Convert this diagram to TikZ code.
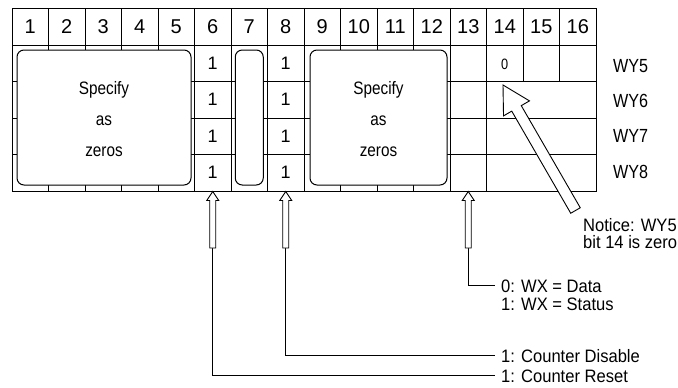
\documentclass[tikz,border=0pt]{standalone}
\usepackage{fontspec}
\setmainfont{Liberation Sans}
\newfontfamily\narrowA[FakeStretch=0.85]{Liberation Sans}
\newfontfamily\narrowB[FakeStretch=0.92]{Liberation Sans}
\usetikzlibrary{calc}
\newcommand\hollowarrow[5]{%
  \coordinate (hb) at ($(#1)!#3!(#2)$);
  \draw[hollow] (#1) -- ($(hb)!#4!90:(#2)$) -- ($(hb)!#5!90:(#2)$)
    -- ($(#2)!#5!-90:(hb)$) -- ($(#2)!#5!90:(hb)$)
    -- ($(hb)!#5!-90:(#2)$) -- ($(hb)!#4!-90:(#2)$) -- cycle;}
\tikzset{
  gridline/.style={line width=1pt},
  zerobox/.style={draw, fill=white, line width=1pt, rounded corners=7pt, inner sep=0pt},
  hdr/.style={font=\fontsize{20}{22}\selectfont, inner sep=0pt},
  bitval/.style={font=\fontsize{18}{20}\selectfont, inner sep=0pt},
  boxtext/.style={font=\narrowA\fontsize{18}{31}\selectfont, align=center, inner sep=0pt},
  lbl/.style={font=\narrowB\fontsize{18}{18}\selectfont, inner sep=0pt, anchor=base west},
  wylbl/.style={font=\narrowA\fontsize{19}{20}\selectfont, inner sep=0pt, anchor=west},
  hollow/.style={draw, fill=white, line width=0.9pt, line join=miter},
  leader/.style={line width=1pt},
}
\begin{document}
\begin{tikzpicture}[x=1pt,y=-1pt]
\useasboundingbox (0,0) rectangle (678,388);
\clip (0,0) rectangle (678,388);
% grid
\draw[gridline] (12,8) rectangle (596,191);
\foreach \y in {45,81.5,118,154.5} \draw[gridline] (12,\y) -- (596,\y);
\foreach \k in {1,...,13} \draw[gridline] ({12+36.5*\k},8) -- ({12+36.5*\k},191);
\foreach \k in {14,15} \draw[gridline] ({12+36.5*\k},8) -- ({12+36.5*\k},81.5);
% header numbers
\foreach \k in {1,...,16} \node[hdr] (h\k) at ({12+36.5*(\k-0.5)},27) {\k};
% bit values
\foreach \r/\y in {5/63.25,6/99.75,7/136.25,8/172.75} {
  \node[bitval] (six\r) at (212.75,\y) {1};
  \node[bitval] (eight\r) at (285.75,\y) {1};
}
\node[font=\narrowA\fontsize{15}{17}\selectfont, inner sep=0pt] (b14) at (504.75,64) {0};
% rounded boxes
\node[zerobox, minimum width=174pt, minimum height=135pt] (zeroA) at (104,117.5) {};
\node[boxtext] (zeroAtext) at (104,119.5) {Specify\\as\\zeros};
\node[zerobox, minimum width=28pt, minimum height=135pt] (bitseven) at (249.25,117.5) {};
\node[zerobox, minimum width=137pt, minimum height=135pt] (zeroB) at (378.5,117.5) {};
\node[boxtext] (zeroBtext) at (378.5,119.5) {Specify\\as\\zeros};
% word labels
\node[wylbl] (wy5) at (613,66) {WY5};
\node[wylbl] (wy6) at (613,100.5) {WY6};
\node[wylbl] (wy7) at (613,136) {WY7};
\node[wylbl] (wy8) at (613,172) {WY8};
% bottom labels
\node[lbl] (wxdata) at (501,292) {0: WX = Data};
\node[lbl] (wxstatus) at (501,310) {1: WX = Status};
\node[lbl] (cdis) at (501,362) {1: Counter Disable};
\node[lbl] (creset) at (501,382) {1: Counter Reset};
\node[font=\narrowB\fontsize{18}{17}\selectfont, inner sep=0pt, align=left, anchor=north west]
  (notice) at (583,218) {Notice: WY5\\bit 14 is zero};
% arrows
\coordinate (asixtip) at (212.75,191.5);
\coordinate (asixtail) at (212.75,248);
\coordinate (aeighttip) at (285.75,191.5);
\coordinate (aeighttail) at (285.75,248);
\coordinate (athirteentip) at (468.25,191.5);
\coordinate (athirteentail) at (468.25,248);
\coordinate (ntip) at (503,85);
\coordinate (ntail) at (575.5,210.5);
\draw[leader] (asixtail) |- ([xshift=-6pt]creset.west);
\draw[leader] (aeighttail) |- ([xshift=-6pt]cdis.west);
\draw[leader] (athirteentail) |- ([xshift=-6pt]wxdata.west);
\hollowarrow{asixtip}{asixtail}{9pt}{6pt}{3pt}
\hollowarrow{aeighttip}{aeighttail}{9pt}{6pt}{3pt}
\hollowarrow{athirteentip}{athirteentail}{9pt}{6pt}{3pt}
\hollowarrow{ntip}{ntail}{27pt}{15pt}{5.5pt}
\end{tikzpicture}
\end{document}
